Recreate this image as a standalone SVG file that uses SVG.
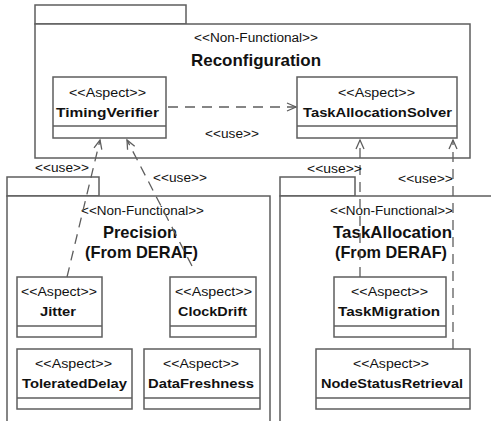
<svg xmlns="http://www.w3.org/2000/svg" width="491" height="421" viewBox="0 0 491 421">
<defs>
<style>
.pk{fill:#fff;stroke:#5e5e5e;stroke-width:1.5}
.bx{fill:#fff;stroke:#5e5e5e;stroke-width:1.5}
.ln{fill:none;stroke:#5e5e5e;stroke-width:1.3}
.dash{fill:none;stroke:#5e5e5e;stroke-width:1.3;stroke-dasharray:10,7}
.st{font-family:"Liberation Sans",Arial,sans-serif;font-size:12px;fill:#111;text-anchor:start}
.nm{font-family:"Liberation Sans",Arial,sans-serif;font-size:13px;font-weight:bold;fill:#111}
.pn{font-family:"Liberation Sans",Arial,sans-serif;font-size:17px;font-weight:bold;fill:#111}
</style>
<marker id="arr" markerWidth="12" markerHeight="12" refX="10" refY="5" orient="auto" markerUnits="userSpaceOnUse" viewBox="0 0 12 10">
<path d="M1,1 L10,5 L1,9" fill="none" stroke="#5e5e5e" stroke-width="1.3"/>
</marker>
</defs>
<rect width="491" height="421" fill="#fff"/>

<g id="pkg-reconfiguration">
<rect class="pk" x="35" y="5" width="151" height="19"/>
<rect class="pk" x="35" y="24" width="435" height="134"/>
<text class="st" x="194" y="42" textLength="124" lengthAdjust="spacingAndGlyphs">&lt;&lt;Non-Functional&gt;&gt;</text>
<text class="pn" x="191" y="66" textLength="130" lengthAdjust="spacingAndGlyphs">Reconfiguration</text>
</g>

<g id="pkg-precision">
<rect class="pk" x="7" y="177" width="92" height="19"/>
<path class="pk" d="M7,430 L7,196 L270,196 L270,430"/>
<text class="st" x="81" y="215" textLength="123" lengthAdjust="spacingAndGlyphs">&lt;&lt;Non-Functional&gt;&gt;</text>
<text class="pn" x="103" y="238" textLength="74" lengthAdjust="spacingAndGlyphs">Precision</text>
<text class="pn" x="85" y="258" textLength="113" lengthAdjust="spacingAndGlyphs">(From DERAF)</text>
</g>

<g id="pkg-taskallocation">
<rect class="pk" x="280" y="177" width="75" height="19"/>
<path class="pk" d="M280,430 L280,196 L495,196"/>
<text class="st" x="330" y="215" textLength="123" lengthAdjust="spacingAndGlyphs">&lt;&lt;Non-Functional&gt;&gt;</text>
<text class="pn" x="333" y="238" textLength="119" lengthAdjust="spacingAndGlyphs">TaskAllocation</text>
<text class="pn" x="335" y="258" textLength="112" lengthAdjust="spacingAndGlyphs">(From DERAF)</text>
</g>

<g id="timingverifier">
<rect class="bx" x="53" y="77" width="113" height="61"/>
<line class="ln" x1="53" y1="126" x2="166" y2="126"/>
<text class="st" x="69" y="97" textLength="77" lengthAdjust="spacingAndGlyphs">&lt;&lt;Aspect&gt;&gt;</text>
<text class="nm" x="56" y="117" textLength="103" lengthAdjust="spacingAndGlyphs">TimingVerifier</text>
</g>

<g id="taskallocationsolver">
<rect class="bx" x="297" y="77" width="160" height="61"/>
<line class="ln" x1="297" y1="126" x2="457" y2="126"/>
<text class="st" x="338" y="97" textLength="77" lengthAdjust="spacingAndGlyphs">&lt;&lt;Aspect&gt;&gt;</text>
<text class="nm" x="303" y="117" textLength="149" lengthAdjust="spacingAndGlyphs">TaskAllocationSolver</text>
</g>

<g id="jitter">
<rect class="bx" x="17" y="277" width="85" height="60"/>
<line class="ln" x1="17" y1="326" x2="102" y2="326"/>
<text class="st" x="21" y="296" textLength="76" lengthAdjust="spacingAndGlyphs">&lt;&lt;Aspect&gt;&gt;</text>
<text class="nm" x="40" y="316" textLength="36" lengthAdjust="spacingAndGlyphs">Jitter</text>
</g>

<g id="clockdrift">
<rect class="bx" x="170" y="277" width="86" height="60"/>
<line class="ln" x1="170" y1="326" x2="256" y2="326"/>
<text class="st" x="175" y="296" textLength="77" lengthAdjust="spacingAndGlyphs">&lt;&lt;Aspect&gt;&gt;</text>
<text class="nm" x="178" y="316" textLength="69" lengthAdjust="spacingAndGlyphs">ClockDrift</text>
</g>

<g id="tolerateddelay">
<rect class="bx" x="17" y="349" width="115" height="60"/>
<line class="ln" x1="17" y1="398" x2="132" y2="398"/>
<text class="st" x="35" y="368" textLength="77" lengthAdjust="spacingAndGlyphs">&lt;&lt;Aspect&gt;&gt;</text>
<text class="nm" x="22" y="388" textLength="105" lengthAdjust="spacingAndGlyphs">ToleratedDelay</text>
</g>

<g id="datafreshness">
<rect class="bx" x="144" y="349" width="116" height="60"/>
<line class="ln" x1="144" y1="398" x2="260" y2="398"/>
<text class="st" x="163" y="368" textLength="76" lengthAdjust="spacingAndGlyphs">&lt;&lt;Aspect&gt;&gt;</text>
<text class="nm" x="148" y="388" textLength="106" lengthAdjust="spacingAndGlyphs">DataFreshness</text>
</g>

<g id="taskmigration">
<rect class="bx" x="334" y="277" width="112" height="60"/>
<line class="ln" x1="334" y1="326" x2="446" y2="326"/>
<text class="st" x="351" y="296" textLength="77" lengthAdjust="spacingAndGlyphs">&lt;&lt;Aspect&gt;&gt;</text>
<text class="nm" x="338" y="316" textLength="102" lengthAdjust="spacingAndGlyphs">TaskMigration</text>
</g>

<g id="nodestatusretrieval">
<rect class="bx" x="316" y="349" width="154" height="60"/>
<line class="ln" x1="316" y1="398" x2="470" y2="398"/>
<text class="st" x="353" y="368" textLength="76" lengthAdjust="spacingAndGlyphs">&lt;&lt;Aspect&gt;&gt;</text>
<text class="nm" x="321" y="388" textLength="142" lengthAdjust="spacingAndGlyphs">NodeStatusRetrieval</text>
</g>

<g id="connectors">
<line class="dash" x1="168" y1="107" x2="296" y2="107" marker-end="url(#arr)"/>
<text class="st" x="205" y="138" textLength="54" lengthAdjust="spacingAndGlyphs">&lt;&lt;use&gt;&gt;</text>
<line class="dash" x1="67" y1="277" x2="100" y2="140" marker-end="url(#arr)"/>
<text class="st" x="35" y="172" textLength="54" lengthAdjust="spacingAndGlyphs">&lt;&lt;use&gt;&gt;</text>
<line class="dash" x1="192" y1="266" x2="127" y2="140" marker-end="url(#arr)"/>
<text class="st" x="153" y="182" textLength="54" lengthAdjust="spacingAndGlyphs">&lt;&lt;use&gt;&gt;</text>
<line class="dash" x1="360" y1="277" x2="360" y2="140" marker-end="url(#arr)"/>
<text class="st" x="307" y="173" textLength="55" lengthAdjust="spacingAndGlyphs">&lt;&lt;use&gt;&gt;</text>
<line class="dash" x1="453" y1="349" x2="453" y2="140" marker-end="url(#arr)"/>
<text class="st" x="398" y="183" textLength="55" lengthAdjust="spacingAndGlyphs">&lt;&lt;use&gt;&gt;</text>
</g>
</svg>
